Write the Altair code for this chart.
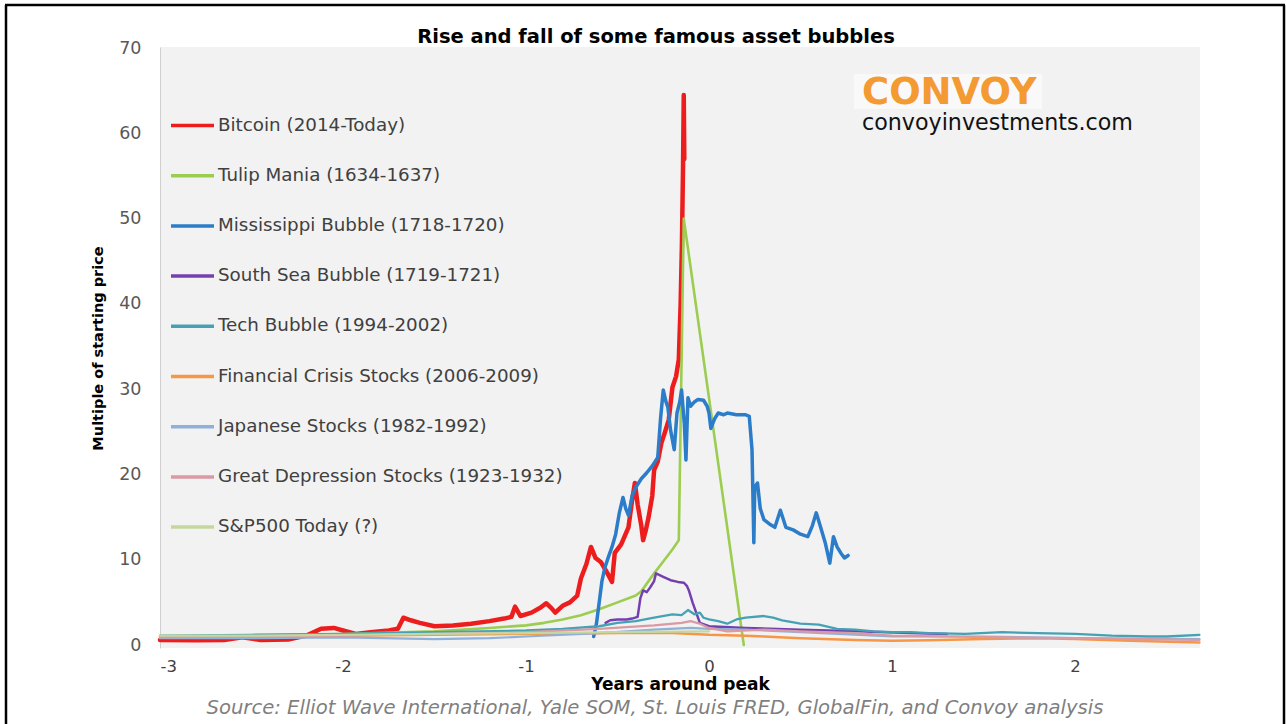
import altair as alt
import pandas as pd

# ---- series definitions (years around peak, multiple of starting price) ----
series_names = [
    "Bitcoin (2014-Today)",
    "Tulip Mania (1634-1637)",
    "Mississippi Bubble (1718-1720)",
    "South Sea Bubble (1719-1721)",
    "Tech Bubble (1994-2002)",
    "Financial Crisis Stocks (2006-2009)",
    "Japanese Stocks (1982-1992)",
    "Great Depression Stocks (1923-1932)",
    "S&P500 Today (?)",
]
series_colors = ["#ee1d1d", "#9ccc50", "#2b7cc9", "#7440b0", "#45a2b4",
                 "#f79646", "#8fb0d8", "#d99aa4", "#c5d79e"]
series_widths = [4.5, 2.6, 3.5, 2.5, 2.3, 2.5, 2.2, 2.2, 2.2]

bitcoin_x = [-3.0, -2.8, -2.65, -2.55, -2.45, -2.3, -2.2, -2.12, -2.05, -2.0, -1.93, -1.85,
             -1.75, -1.7, -1.67, -1.63, -1.58, -1.5, -1.4, -1.3, -1.2, -1.12, -1.08, -1.06,
             -1.03, -0.97, -0.92, -0.89, -0.86, -0.84, -0.8, -0.76, -0.72, -0.7, -0.67,
             -0.645, -0.62, -0.59, -0.56, -0.53, -0.515, -0.48, -0.44, -0.42, -0.405, -0.39,
             -0.37, -0.36, -0.345, -0.33, -0.31, -0.3, -0.28, -0.26, -0.24, -0.22, -0.2,
             -0.18, -0.165, -0.155, -0.148, -0.142, -0.138, -0.135]
bitcoin_y = [0.6, 0.55, 0.6, 0.9, 0.6, 0.65, 1.1, 1.9, 2.0, 1.7, 1.3, 1.5,
             1.7, 1.9, 3.2, 2.9, 2.6, 2.2, 2.3, 2.5, 2.8, 3.1, 3.3, 4.5,
             3.4, 3.8, 4.4, 4.9, 4.3, 3.8, 4.6, 5.0, 5.8, 7.8, 9.5,
             11.5, 10.2, 9.7, 8.6, 7.4, 10.8, 11.8, 13.8, 17.0, 19.0, 16.5,
             14.0, 12.3, 13.5, 15.0, 17.5, 20.5, 21.5, 23.7, 25.0, 26.4, 30.2,
             31.5, 33.5, 40.0, 47.0, 56.0, 64.5, 57.0]

tulip_x = [-3.0, -2.5, -2.0, -1.5, -1.2, -1.0, -0.9, -0.8, -0.7, -0.6, -0.5, -0.4,
           -0.37, -0.3, -0.25, -0.2, -0.165, -0.138, 0.19]
tulip_y = [1.0, 1.1, 1.3, 1.6, 2.0, 2.3, 2.6, 3.0, 3.5, 4.2, 5.0, 5.8,
           6.3, 8.4, 9.8, 11.2, 12.3, 50.0, 0.0]

mississippi_x = [-0.63, -0.615, -0.6, -0.585, -0.57, -0.55, -0.53, -0.51, -0.49, -0.47, -0.455,
                 -0.44, -0.42, -0.4, -0.37, -0.34, -0.31, -0.28, -0.265, -0.25, -0.235, -0.225,
                 -0.21, -0.19, -0.175, -0.16, -0.15, -0.135, -0.126, -0.115, -0.1, -0.08, -0.06,
                 -0.03, -0.01, 0.0, 0.01, 0.03, 0.05, 0.08, 0.1, 0.15, 0.2, 0.22, 0.235, 0.245,
                 0.25, 0.265, 0.28, 0.3, 0.33, 0.36, 0.39, 0.42, 0.46, 0.5, 0.54, 0.565, 0.586,
                 0.61, 0.635, 0.66, 0.68, 0.7, 0.72, 0.74, 0.76]
mississippi_y = [1.0, 2.5, 5.0, 7.5, 9.0, 10.3, 11.5, 13.0, 15.5, 17.3, 16.0,
                 15.2, 17.5, 18.5, 19.5, 20.2, 21.0, 22.0, 26.5, 29.9, 28.5, 27.9,
                 25.2, 22.9, 27.2, 28.5, 29.9, 26.0, 21.7, 29.0, 28.0, 28.5, 28.8,
                 28.7, 28.0, 27.2, 25.4, 26.5, 27.2, 27.0, 27.2, 27.0, 27.0, 26.8, 22.9, 12.0,
                 18.5, 19.0, 16.0, 14.7, 14.2, 13.8, 15.8, 13.8, 13.5, 13.0, 12.7, 14.0, 15.5,
                 13.8, 12.0, 9.6, 12.7, 11.5, 10.8, 10.2, 10.5]

southsea_x = [-0.565, -0.54, -0.5, -0.45, -0.42, -0.39, -0.375, -0.36, -0.34, -0.32, -0.3,
              -0.29, -0.27, -0.25, -0.21, -0.17, -0.137, -0.12, -0.11, -0.09, -0.07, -0.05,
              0.0, 0.2, 0.5, 0.8, 1.1, 1.3]
southsea_y = [2.6, 2.9, 3.0, 3.0, 3.1, 3.3, 5.5, 6.4, 6.2, 6.8, 7.5,
              8.4, 8.2, 8.0, 7.6, 7.4, 7.3, 6.9, 6.4, 5.0, 3.8, 2.6,
              2.2, 2.0, 1.8, 1.6, 1.4, 1.3]

tech_x = [-3.0, -2.5, -2.0, -1.5, -1.0, -0.8, -0.6, -0.5, -0.4, -0.3, -0.2, -0.15, -0.115,
          -0.08, -0.05, -0.03, 0.0, 0.05, 0.1, 0.15, 0.2, 0.3, 0.35, 0.4, 0.5, 0.6, 0.7,
          0.8, 0.9, 1.0, 1.1, 1.2, 1.4, 1.6, 1.8, 2.0, 2.2, 2.4, 2.5, 2.68]
tech_y = [1.1, 1.2, 1.3, 1.5, 1.7, 1.9, 2.2, 2.6, 2.8, 3.2, 3.6, 3.5, 4.1,
          3.6, 3.8, 3.2, 3.0, 2.8, 2.5, 3.0, 3.2, 3.4, 3.2, 2.9, 2.5, 2.4, 1.9,
          1.8, 1.6, 1.5, 1.5, 1.4, 1.3, 1.5, 1.4, 1.3, 1.1, 1.0, 1.0, 1.2]

crisis_x = [-3.0, -2.5, -2.0, -1.5, -1.0, -0.5, -0.2, 0.0, 0.2, 0.3, 0.5, 0.8, 1.0,
            1.2, 1.5, 1.8, 2.0, 2.3, 2.68]
crisis_y = [1.0, 1.0, 1.1, 1.2, 1.3, 1.4, 1.4, 1.2, 1.1, 1.0, 0.8, 0.6, 0.5,
            0.55, 0.7, 0.8, 0.7, 0.5, 0.3]

japan_x = [-3.0, -2.5, -2.0, -1.5, -1.2, -1.0, -0.6, -0.3, -0.1, 0.0, 0.2, 0.5, 1.0,
           1.5, 2.0, 2.68]
japan_y = [0.8, 0.8, 0.9, 0.7, 0.8, 1.0, 1.4, 1.8, 2.0, 1.9, 1.8, 1.5, 1.0,
           1.0, 0.8, 0.7]

depression_x = [-3.0, -2.5, -2.0, -1.5, -1.0, -0.6, -0.3, -0.15, -0.1, -0.05, 0.0, 0.1,
                0.3, 0.5, 0.8, 1.0, 1.3, 1.6, 2.0, 2.3, 2.68]
depression_y = [0.9, 1.0, 1.1, 1.3, 1.5, 1.9, 2.3, 2.6, 2.8, 2.5, 2.0, 1.6,
                1.8, 1.6, 1.4, 1.1, 1.0, 0.9, 0.8, 0.7, 0.6]

sp500_x = [-3.0, -2.5, -2.0, -1.5, -1.0, -0.5, 0.0]
sp500_y = [1.1, 1.1, 1.2, 1.3, 1.4, 1.5, 1.6]

series_x = [bitcoin_x, tulip_x, mississippi_x, southsea_x, tech_x,
            crisis_x, japan_x, depression_x, sp500_x]
series_y = [bitcoin_y, tulip_y, mississippi_y, southsea_y, tech_y,
            crisis_y, japan_y, depression_y, sp500_y]

rows = []
for name, xs, ys, w in zip(series_names, series_x, series_y, series_widths):
    for x, y in zip(xs, ys):
        rows.append({"series": name, "years": x, "multiple": y, "lw": w})
data = pd.DataFrame(rows)

FONT = "DejaVu Sans"

lines = alt.Chart(data).mark_line(strokeJoin="round", strokeCap="round").encode(
    x=alt.X(
        "years:Q",
        scale=alt.Scale(domain=[-3, 2.683], nice=False, zero=False),
        axis=alt.Axis(
            values=[-3, -2, -1, 0, 1, 2], title="Years around peak",
            labelExpr="(datum.value < 0 ? '-' : '') + abs(datum.value)",
            grid=False, ticks=False, domain=False, labelPadding=10,
            labelFont=FONT, labelFontSize=16.5, labelColor="#404040",
            titleFont=FONT, titleFontSize=17, titleFontWeight="bold", titleColor="#000000",
            titleY=36, titleBaseline="middle",
        ),
    ),
    y=alt.Y(
        "multiple:Q",
        scale=alt.Scale(domain=[-0.35, 70.12], nice=False, zero=False),
        axis=alt.Axis(
            values=[0, 10, 20, 30, 40, 50, 60, 70], title="Multiple of starting price",
            grid=False, ticks=False, domainColor="#d0d0d0", labelPadding=19,
            labelFont=FONT, labelFontSize=17.5, labelColor="#595959",
            titleFont=FONT, titleFontSize=14.5, titleFontWeight="bold", titleColor="#000000",
            titleX=-62, titleY=301, titleBaseline="middle", titleAngle=-90,
        ),
    ),
    color=alt.Color(
        "series:N",
        scale=alt.Scale(domain=series_names, range=series_colors),
        legend=alt.Legend(
            title=None, orient="none", legendX=9, legendY=55,
            symbolType="stroke", symbolSize=1849, symbolStrokeWidth=3.5,
            labelOffset=2, rowPadding=18.2, padding=0,
            labelFont=FONT, labelFontSize=18.3, labelColor="#404040", labelLimit=600,
        ),
    ),
    strokeWidth=alt.StrokeWidth("lw:Q", scale=None),
)

# chart heading
heading = alt.Chart(pd.DataFrame({"t": ["Rise and fall of some famous asset bubbles"]})).mark_text(
    font=FONT, fontSize=19.5, fontWeight="bold", color="#000000", align="center", baseline="alphabetic"
).encode(x=alt.value(496), y=alt.value(-4), text="t:N")

# logo block
logo_box = alt.Chart(pd.DataFrame({"k": [0]})).mark_rect(color="#ffffff", opacity=0.5).encode(
    x=alt.value(694), x2=alt.value(882), y=alt.value(27), y2=alt.value(62)
)
logo_name = alt.Chart(pd.DataFrame({"t": ["CONVOY"]})).mark_text(
    font="DejaVu Sans", fontSize=37, fontWeight="bold", color="#f39a33", align="left", baseline="alphabetic"
).encode(x=alt.value(702), y=alt.value(57), text="t:N")
logo_url = alt.Chart(pd.DataFrame({"t": ["convoyinvestments.com"]})).mark_text(
    font="DejaVu Sans", fontSize=22.2, color="#111111", align="left", baseline="alphabetic"
).encode(x=alt.value(702), y=alt.value(83), text="t:N")

# source line under the axis
source = alt.Chart(pd.DataFrame({"t": [
    "Source: Elliot Wave International, Yale SOM, St. Louis FRED, GlobalFin, and Convoy analysis"
]})).mark_text(
    font=FONT, fontSize=19.6, fontStyle="italic", color="#7f7f7f", align="center", baseline="middle"
).encode(x=alt.value(495), y=alt.value(661), text="t:N")

# outer frame (left, top, right edges)
frame_left = alt.Chart(pd.DataFrame({"k": [0]})).mark_rule(color="#000000", strokeWidth=2.5).encode(
    x=alt.value(-154), y=alt.value(-42), y2=alt.value(680)
)
frame_top = alt.Chart(pd.DataFrame({"k": [0]})).mark_rule(color="#000000", strokeWidth=2.5).encode(
    x=alt.value(-155), x2=alt.value(1125), y=alt.value(-42)
)
frame_right = alt.Chart(pd.DataFrame({"k": [0]})).mark_rule(color="#000000", strokeWidth=2.5).encode(
    x=alt.value(1124), y=alt.value(-42), y2=alt.value(680)
)

chart = alt.layer(
    lines, heading, logo_box, logo_name, logo_url, source, frame_left, frame_top, frame_right
).properties(
    width=1040, height=601,
    autosize=alt.AutoSizeParams(type="none"),
    padding={"left": 160, "top": 47, "right": 86, "bottom": 76},
    background="#ffffff",
).configure_view(
    fill="#f2f2f2", stroke=None
)

chart.save("out.html", embed_options={"renderer": "svg", "actions": False})
